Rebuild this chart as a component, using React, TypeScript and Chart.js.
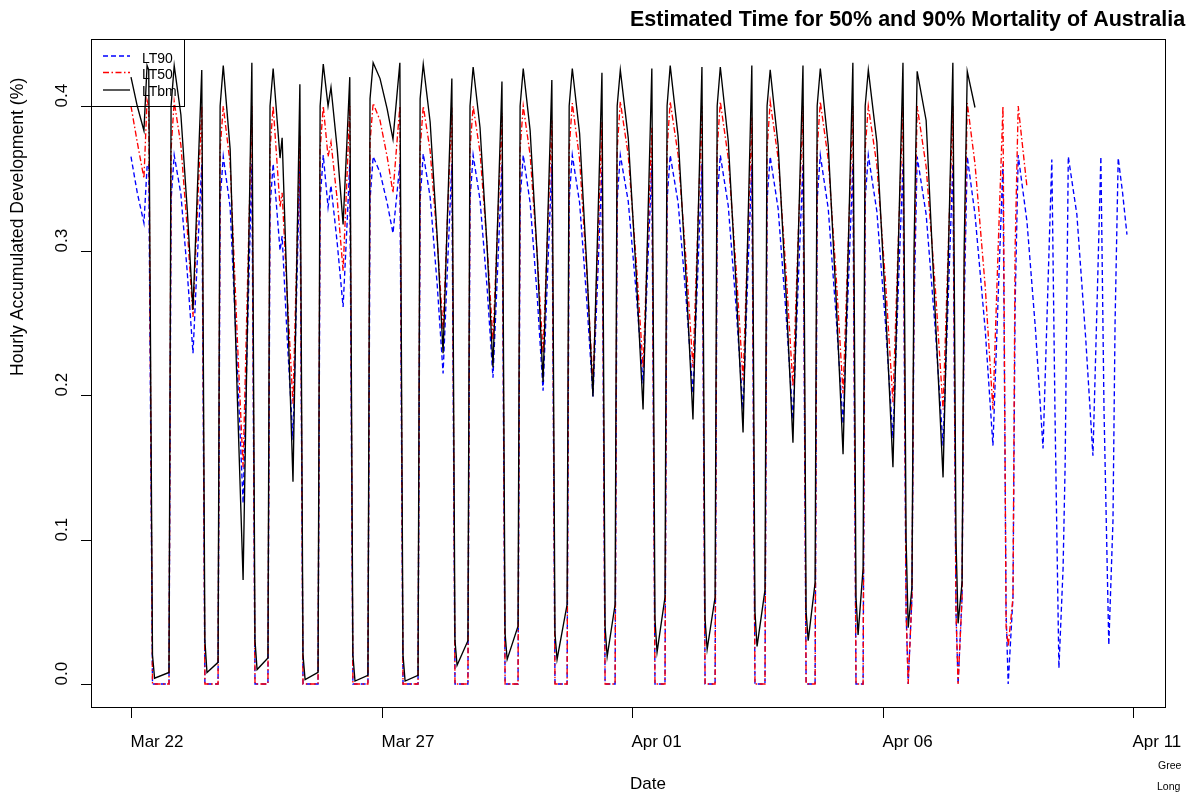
import React, { useEffect, useRef } from "react";
import { Chart, registerables } from "chart.js";

Chart.register(...registerables);

// Hours since Mar 22 00:00 (hourly series, key points)
const hours = [
  0, 3, 6.2, 7.7, 8.5,
  10.3, 11.3, 18.2, 19.2, 20.7, 23.9, 27.0, 29.7, 32.0, 33.9,
  35.4, 36.4, 41.7, 42.7, 44.2, 47.5, 50.9, 53.7, 56.0, 57.9,
  59.4, 60.4, 65.6, 66.6, 68.1, 71.4, 72.4, 74.8, 77.6, 79.4, 80.9,
  82.4, 83.4, 89.6, 90.6, 92.1, 94.4, 95.8, 98.8, 101.6, 103.4, 104.8,
  106.3, 107.3, 113.5, 114.5, 116.0, 119.3, 122.7, 125.5, 127.3, 128.8,
  130.3, 131.3, 137.5, 138.5, 140.0, 143.3, 146.7, 149.5, 151.8, 153.7,
  155.2, 156.2, 161.4, 162.4, 163.9, 167.2, 170.6, 173.4, 175.8, 177.7,
  179.2, 180.2, 185.4, 186.4, 187.9, 191.2, 194.6, 197.4, 199.7, 201.6,
  203.1, 204.1, 208.9, 209.9, 211.4, 214.9, 218.3, 221.3, 223.7, 225.6,
  227.1, 228.1, 231.9, 232.9, 234.4, 238.2, 242.0, 245.3, 247.6, 249.5,
  251.0, 252.0, 255.8, 256.8, 258.3, 262.1, 265.9, 269.2, 271.6, 273.5,
  275.0, 276.0, 279.8, 280.8, 282.3, 286.1, 289.9, 293.2, 295.5, 297.4,
  298.9, 299.9, 303.7, 304.7, 306.2, 310.0, 313.8, 317.1, 319.7, 321.9,
  323.4, 324.4, 327.7, 328.7, 330.2, 334.0, 337.8, 341.1, 343.7, 345.8,
  347.3, 348.3, 350.7, 351.7, 353.2, 357.3, 361.5, 365.0, 367.6, 369.8,
  371.3, 372.3, 374.1, 375.1, 376.6, 380.9, 385.3, 389.0, 391.6, 393.7,
  395.2, 396.2, 398.1, 399.1, 400.6, 404.3, 409.2, 412.9, 415.5, 417.7,
  419.2, 420.2, 422.5, 423.5, 425.0, 429.2, 433.3, 436.9, 439.2, 441.1,
  442.6, 444.5, 446.5, 447.5, 449.0, 453.1, 457.3, 460.8, 462.9, 464.6,
  466.1, 468.4, 470.4, 471.4, 472.9, 475.0, 477.1,
];

const lt90 = [
  0.365, 0.34, 0.319, 0.358, 0.36,
  0, 0, 0, 0.335, 0.366, 0.339, 0.284, 0.229, 0.301, 0.36,
  0, 0, 0, 0.335, 0.365, 0.33, 0.22, 0.125, 0.254, 0.36,
  0, 0, 0, 0.33, 0.36, 0.30, 0.31, 0.24, 0.169, 0.274, 0.36,
  0, 0, 0, 0.335, 0.366, 0.33, 0.345, 0.305, 0.261, 0.315, 0.36,
  0, 0, 0, 0.335, 0.365, 0.354, 0.333, 0.312, 0.338, 0.36,
  0, 0, 0, 0.335, 0.367, 0.337, 0.276, 0.215, 0.295, 0.36,
  0, 0, 0, 0.335, 0.366, 0.335, 0.274, 0.212, 0.293, 0.36,
  0, 0, 0, 0.335, 0.366, 0.333, 0.268, 0.203, 0.289, 0.36,
  0, 0, 0, 0.335, 0.366, 0.333, 0.266, 0.199, 0.286, 0.358,
  0, 0, 0, 0.335, 0.366, 0.334, 0.271, 0.208, 0.292, 0.36,
  0, 0, 0, 0.335, 0.366, 0.333, 0.267, 0.201, 0.288, 0.36,
  0, 0, 0, 0.335, 0.366, 0.331, 0.26, 0.19, 0.284, 0.36,
  0, 0, 0, 0.335, 0.365, 0.329, 0.256, 0.183, 0.28, 0.36,
  0, 0, 0, 0.335, 0.366, 0.329, 0.254, 0.18, 0.279, 0.36,
  0, 0, 0, 0.335, 0.366, 0.327, 0.248, 0.17, 0.275, 0.36,
  0.05, 0, 0.06, 0.26, 0.365, 0.325, 0.245, 0.165, 0.272, 0.36,
  0.05, 0, 0.06, 0.26, 0.365, 0.325, 0.245, 0.165, 0.272, 0.36,
  0.05, 0, 0.06, 0.26, 0.366, 0.32, 0.245, 0.163, 0.273, 0.363,
  0.19, 0.011, 0.08, 0.153, 0.365, 0.325, 0.24, 0.158, 0.27, 0.365,
  0.19, 0.027, 0.113, 0.25, 0.364, 0.34, 0.311,
];

const lt50 = [
  0.40, 0.375, 0.35, 0.404, 0.40,
  0, 0, 0, 0.37, 0.403, 0.373, 0.314, 0.254, 0.334, 0.40,
  0, 0, 0, 0.37, 0.40, 0.36, 0.24, 0.15, 0.288, 0.40,
  0, 0, 0, 0.37, 0.40, 0.33, 0.34, 0.27, 0.194, 0.296, 0.38,
  0, 0, 0, 0.37, 0.40, 0.365, 0.375, 0.335, 0.286, 0.349, 0.40,
  0, 0, 0, 0.375, 0.402, 0.39, 0.365, 0.34, 0.373, 0.40,
  0, 0, 0, 0.37, 0.40, 0.369, 0.307, 0.245, 0.33, 0.399,
  0, 0, 0, 0.37, 0.40, 0.368, 0.303, 0.238, 0.324, 0.395,
  0, 0, 0, 0.37, 0.40, 0.366, 0.297, 0.229, 0.318, 0.39,
  0, 0, 0, 0.37, 0.402, 0.363, 0.286, 0.208, 0.308, 0.389,
  0, 0, 0, 0.37, 0.403, 0.366, 0.293, 0.219, 0.31, 0.385,
  0, 0, 0, 0.37, 0.403, 0.366, 0.293, 0.219, 0.319, 0.40,
  0, 0, 0, 0.37, 0.403, 0.364, 0.287, 0.21, 0.31, 0.392,
  0, 0, 0, 0.37, 0.403, 0.364, 0.285, 0.206, 0.313, 0.40,
  0, 0, 0, 0.37, 0.403, 0.363, 0.282, 0.201, 0.31, 0.40,
  0, 0, 0, 0.37, 0.40, 0.359, 0.277, 0.195, 0.308, 0.40,
  0.05, 0, 0.06, 0.28, 0.40, 0.358, 0.274, 0.19, 0.306, 0.40,
  0.05, 0, 0.06, 0.28, 0.402, 0.36, 0.275, 0.19, 0.306, 0.40,
  0.04, 0.026, 0.06, 0.30, 0.40, 0.344, null, null, null, null,
  null, null, null, null, null, null, null, null, null, null,
  null, null, null, null, null, null, null,
];

const ltbm = [
  0.42, 0.40, 0.383, 0.428, 0.425,
  0.02, 0.004, 0.008, 0.40, 0.428, 0.394, 0.327, 0.259, 0.35, 0.425,
  0.03, 0.008, 0.015, 0.40, 0.428, 0.37, 0.20, 0.072, 0.269, 0.43,
  0.03, 0.01, 0.018, 0.40, 0.426, 0.364, 0.378, 0.27, 0.14, 0.291, 0.415,
  0.02, 0.003, 0.008, 0.40, 0.429, 0.40, 0.413, 0.37, 0.318, 0.374, 0.42,
  0.02, 0.002, 0.006, 0.405, 0.43, 0.419, 0.398, 0.377, 0.406, 0.43,
  0.02, 0.002, 0.006, 0.405, 0.429, 0.389, 0.309, 0.229, 0.334, 0.419,
  0.03, 0.013, 0.03, 0.40, 0.427, 0.385, 0.302, 0.219, 0.328, 0.417,
  0.035, 0.017, 0.04, 0.40, 0.426, 0.383, 0.296, 0.209, 0.324, 0.418,
  0.035, 0.017, 0.055, 0.40, 0.426, 0.381, 0.29, 0.199, 0.322, 0.423,
  0.04, 0.019, 0.055, 0.40, 0.425, 0.378, 0.284, 0.19, 0.32, 0.426,
  0.045, 0.022, 0.06, 0.40, 0.428, 0.379, 0.281, 0.183, 0.317, 0.427,
  0.045, 0.024, 0.06, 0.40, 0.427, 0.376, 0.275, 0.174, 0.314, 0.428,
  0.05, 0.026, 0.065, 0.40, 0.425, 0.373, 0.27, 0.167, 0.311, 0.428,
  0.05, 0.03, 0.07, 0.40, 0.426, 0.373, 0.266, 0.159, 0.308, 0.43,
  0.06, 0.034, 0.08, 0.40, 0.425, 0.375, 0.26, 0.15, 0.304, 0.43,
  0.10, 0.039, 0.067, 0.30, 0.424, 0.39, 0.255, 0.143, 0.301, 0.43,
  0.10, 0.042, 0.07, 0.30, 0.424, 0.399, null, null, null, null,
  null, null, null, null, null, null, null, null, null, null,
  null, null, null, null, null, null, null, null, null, null,
  null, null, null, null, null, null, null,
];

const xTickHours = [0, 120, 240, 360, 480];
const xTickLabels = ["Mar 22", "Mar 27", "Apr 01", "Apr 06", "Apr 11"];
const yTickValues = [0, 0.1, 0.2, 0.3, 0.4];
const yTickLabels = ["0.0", "0.1", "0.2", "0.3", "0.4"];

const seriesNames = ["LT90", "LT50", "LTbm"];
const seriesColors = ["#0000ff", "#ff0000", "#000000"];
const seriesDashes: number[][] = [[5, 3], [6, 2.5, 1.5, 2.5], []];

const titleText = "Estimated Time for 50% and 90% Mortality of Australia";
const xTitle = "Date";
const yTitle = "Hourly Accumulated Development (%)";
const noteLines = ["Gree", "Long"];

const FONT = "'Liberation Sans', Arial, Helvetica, sans-serif";

const rPlotPlugin = {
  id: "rPlot",
  afterDraw(chart: any) {
    const ctx = chart.ctx as CanvasRenderingContext2D;
    const area = chart.chartArea;
    const xs = chart.scales.x;
    const ys = chart.scales.y;
    ctx.save();
    ctx.strokeStyle = "#000";
    ctx.fillStyle = "#000";
    ctx.lineWidth = 1;
    ctx.setLineDash([]);
    // box
    ctx.strokeRect(area.left + 0.5, area.top + 0.5, area.right - area.left - 1, area.bottom - area.top - 1);

    // x ticks
    ctx.font = `17px ${FONT}`;
    ctx.textBaseline = "middle";
    ctx.textAlign = "left";
    xTickHours.forEach((h, i) => {
      const px = Math.round(xs.getPixelForValue(h)) + 0.5;
      ctx.beginPath();
      ctx.moveTo(px, area.bottom);
      ctx.lineTo(px, area.bottom + 10);
      ctx.stroke();
      ctx.fillText(xTickLabels[i], px - 1, area.bottom + 34);
    });

    // y ticks
    yTickValues.forEach((v, i) => {
      const py = Math.round(ys.getPixelForValue(v)) + 0.5;
      ctx.beginPath();
      ctx.moveTo(area.left, py);
      ctx.lineTo(area.left - 10, py);
      ctx.stroke();
      ctx.save();
      ctx.translate(area.left - 29, py + 1);
      ctx.rotate(-Math.PI / 2);
      ctx.textAlign = "left";
      ctx.textBaseline = "middle";
      ctx.fillText(yTickLabels[i], 0, 0);
      ctx.restore();
    });

    // axis titles
    ctx.save();
    ctx.font = `17.6px ${FONT}`;
    ctx.translate(18, 376);
    ctx.rotate(-Math.PI / 2);
    ctx.textAlign = "left";
    ctx.textBaseline = "middle";
    ctx.fillText(yTitle, 0, 0);
    ctx.restore();

    ctx.textAlign = "left";
    ctx.fillText(xTitle, 630, 784);

    // main title
    ctx.font = `bold 21.5px ${FONT}`;
    ctx.fillText(titleText, 630, 20);

    // note
    ctx.font = `10.5px ${FONT}`;
    ctx.fillText(noteLines[0], 1158, 766);
    ctx.fillText(noteLines[1], 1157, 787);

    // legend
    const lx = area.left;
    const ly = area.top;
    ctx.strokeStyle = "#000";
    ctx.strokeRect(lx + 0.5, ly + 0.5, 93, 67);
    const lineY = [56, 72.5, 90];
    const textY = [59, 75.5, 92];
    ctx.font = `14px ${FONT}`;
    seriesNames.forEach((name, i) => {
      ctx.save();
      ctx.strokeStyle = seriesColors[i];
      ctx.lineWidth = 1.3;
      ctx.setLineDash(seriesDashes[i]);
      ctx.beginPath();
      ctx.moveTo(lx + 12, ly + lineY[i] - 39);
      ctx.lineTo(lx + 39, ly + lineY[i] - 39);
      ctx.stroke();
      ctx.restore();
      ctx.fillStyle = "#000";
      ctx.fillText(name, lx + 51, ly + textY[i] - 39);
    });
    ctx.restore();
  },
};

export default function App() {
  const canvasRef = useRef<HTMLCanvasElement | null>(null);

  useEffect(() => {
    const canvas = canvasRef.current;
    if (!canvas) return;
    const mk = (vals: (number | null)[]) => hours.map((h, i) => ({ x: h, y: vals[i] }));
    const seriesValues = [lt90, lt50, ltbm];
    const chart = new Chart(canvas, {
      type: "line",
      data: {
        datasets: seriesNames.map((name, i) => ({
          label: name,
          data: mk(seriesValues[i]),
          borderColor: seriesColors[i],
          backgroundColor: seriesColors[i],
          borderDash: seriesDashes[i],
          borderWidth: 1.35,
          pointRadius: 0,
          tension: 0,
          fill: false,
          spanGaps: false,
          order: 3 - i,
        })),
      },
      options: {
        responsive: false,
        maintainAspectRatio: false,
        animation: false,
        events: [],
        layout: { padding: { left: 91, right: 21, top: 39, bottom: 85 } },
        plugins: {
          legend: { display: false },
          tooltip: { enabled: false },
          title: { display: false },
        },
        scales: {
          x: { type: "linear", display: false, min: -19.16, max: 495.8 },
          y: { type: "linear", display: false, min: -0.01661, max: 0.4464 },
        },
      },
      plugins: [rPlotPlugin],
    } as any);
    return () => chart.destroy();
  }, []);

  return (
    <div style={{ position: "absolute", left: 0, top: 0, width: 1187, height: 793, background: "#fff", overflow: "hidden" }}>
      <canvas ref={canvasRef} width={1187} height={793} style={{ display: "block", width: 1187, height: 793 }} />
    </div>
  );
}
